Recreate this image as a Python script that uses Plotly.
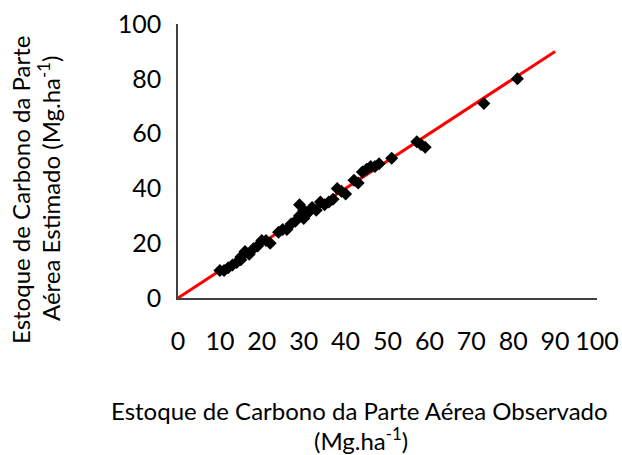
import plotly.graph_objects as go

# Observed vs estimated carbon stock (Mg.ha-1)
observed = [10, 11, 12, 13, 14, 15, 15, 16, 17, 18, 19, 20, 21, 22, 24, 25, 26, 27, 28,
            29, 29, 30, 30, 31, 32, 33, 34, 35, 36, 37, 38, 39, 40, 42, 43, 44, 45, 46,
            47, 48, 51, 57, 58, 59, 73, 81]
estimated = [10, 10, 11, 12, 13, 14, 15, 17, 16, 18, 19, 21, 21, 20, 24, 25, 25, 27, 28,
             30, 34, 29, 32, 31, 33, 32, 35, 34, 35, 36, 40, 39, 38, 43, 42, 46, 47, 48,
             48, 49, 51, 57, 56, 55, 71, 80]
line_x = [0, 90]
line_y = [0, 90]
x_ticks = [0, 10, 20, 30, 40, 50, 60, 70, 80, 90, 100]
y_ticks = [0, 20, 40, 60, 80, 100]

FONT = "Lato"
L, R, T, B = 178, 597, 24, 298
W, H = 622, 455

fig = go.Figure()
fig.add_trace(go.Scatter(x=line_x, y=line_y, mode="lines",
                         line=dict(color="#ff0000", width=3), showlegend=False))
fig.add_trace(go.Scatter(x=observed, y=estimated, mode="markers",
                         marker=dict(symbol="diamond", color="black", size=10),
                         showlegend=False))

def px_x(p):
    return (p - L) / (R - L)

def px_y(p):
    return (B - p) / (B - T)

fig.update_layout(
    width=W, height=H,
    margin=dict(l=L, r=W - R, t=T, b=H - B, autoexpand=False),
    paper_bgcolor="white", plot_bgcolor="white",
    font=dict(family=FONT, color="black"),
    xaxis=dict(range=[0, 100], tickvals=x_ticks, showgrid=False, zeroline=False,
               showline=True, linecolor="#404040", linewidth=1.5, ticks="",
               automargin=False,
               tickfont=dict(size=25, family=FONT), ticklabelstandoff=20),
    yaxis=dict(range=[0, 100], tickvals=y_ticks, showgrid=False, zeroline=False,
               showline=True, linecolor="#404040", linewidth=1.5, ticks="",
               automargin=False,
               tickfont=dict(size=25, family=FONT), ticklabelstandoff=10),
    annotations=[
        dict(text="Estoque de Carbono da Parte Aérea Observado",
             xref="paper", yref="paper", x=px_x(359), y=px_y(410),
             xanchor="center", yanchor="middle", showarrow=False,
             font=dict(size=24, family=FONT)),
        dict(text="(Mg.ha<sup>-1</sup>)",
             xref="paper", yref="paper", x=px_x(361), y=px_y(439),
             xanchor="center", yanchor="middle", showarrow=False,
             font=dict(size=24, family=FONT)),
        dict(text="Estoque de Carbono da Parte",
             xref="paper", yref="paper", x=px_x(20), y=px_y(190),
             xanchor="center", yanchor="middle", textangle=-90, showarrow=False,
             font=dict(size=24, family=FONT)),
        dict(text="Aérea Estimado (Mg.ha<sup>-1</sup>)",
             xref="paper", yref="paper", x=px_x(49), y=px_y(189),
             xanchor="center", yanchor="middle", textangle=-90, showarrow=False,
             font=dict(size=24, family=FONT)),
    ],
)

fig.write_html("out.html")
